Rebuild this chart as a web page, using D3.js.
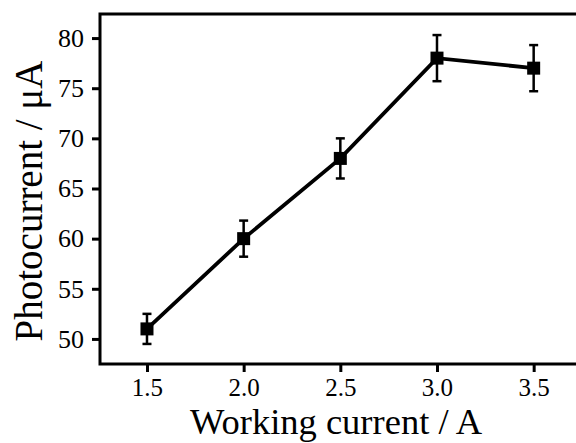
<!DOCTYPE html>
<html>
<head>
<meta charset="utf-8">
<script src="https://cdn.jsdelivr.net/npm/d3@7"></script>
<style>
  body { margin: 0; background: #fff; }
  svg text { font-family: "Liberation Serif", "Times New Roman", serif; fill: #000; }
</style>
</head>
<body>
<div id="chart"></div>
<script>
// data
var currents = [1.5, 2.0, 2.5, 3.0, 3.5];
var photocurrent = [51, 60, 68, 78, 77];
var errors = [1.5, 1.8, 2.0, 2.3, 2.3];
var xTicks = [1.5, 2.0, 2.5, 3.0, 3.5];
var yTicks = [50, 55, 60, 65, 70, 75, 80];

var width = 576, height = 443;
var margin = { top: 14, right: -6, bottom: 79, left: 100 };
var w = width - margin.left - margin.right,
    h = height - margin.top - margin.bottom;

var svg = d3.select("#chart")
    .append("svg")
    .attr("width", width)
    .attr("height", height);

var g = svg.append("g")
    .attr("transform", "translate(" + margin.left + "," + margin.top + ")");

var x = d3.scaleLinear()
    .domain([1.257, 3.75])
    .range([0, w]);

var y = d3.scaleLinear()
    .domain([47.5, 82.4])
    .range([h, 0]);

// x axis
var xAxis = g.append("g")
    .attr("transform", "translate(0," + h + ")")
    .call(d3.axisBottom(x).tickValues(xTicks).tickFormat(d3.format(".1f")).tickSize(8));
xAxis.select(".domain").remove();
xAxis.selectAll(".tick line").attr("stroke-width", 3);
xAxis.selectAll(".tick text")
    .attr("dy", null)
    .attr("y", 32)
    .attr("font-size", 25)
    .style("font-size", "25px");

// y axis
var yAxis = g.append("g")
    .call(d3.axisLeft(y).tickValues(yTicks).tickSize(8).tickPadding(8));
yAxis.select(".domain").remove();
yAxis.selectAll(".tick line").attr("stroke-width", 3);
yAxis.selectAll(".tick text")
    .attr("font-size", 26)
    .style("font-size", "26px");

// frame
g.append("rect")
    .attr("x", 0).attr("y", 0)
    .attr("width", w).attr("height", h)
    .attr("fill", "none")
    .attr("stroke", "#000")
    .attr("stroke-width", 3);

var pts = currents.map(function(c, i) { return { x: c, y: photocurrent[i], e: errors[i] }; });

// line
var line = d3.line()
    .x(function(d) { return x(d.x); })
    .y(function(d) { return y(d.y); });

g.append("path")
    .datum(pts)
    .attr("d", line)
    .attr("fill", "none")
    .attr("stroke", "#000")
    .attr("stroke-width", 3.8);

// error bars
var eb = g.selectAll(".err")
    .data(pts)
    .enter()
    .append("g")
    .attr("class", "err");

eb.append("line")
    .attr("x1", function(d) { return x(d.x); })
    .attr("x2", function(d) { return x(d.x); })
    .attr("y1", function(d) { return y(d.y - d.e); })
    .attr("y2", function(d) { return y(d.y + d.e); })
    .attr("stroke", "#000")
    .attr("stroke-width", 2.5);

eb.selectAll(".cap")
    .data(function(d) { return [d.y - d.e, d.y + d.e].map(function(v) { return { x: d.x, v: v }; }); })
    .enter()
    .append("line")
    .attr("x1", function(d) { return x(d.x) - 4.5; })
    .attr("x2", function(d) { return x(d.x) + 4.5; })
    .attr("y1", function(d) { return y(d.v); })
    .attr("y2", function(d) { return y(d.v); })
    .attr("stroke", "#000")
    .attr("stroke-width", 2.5);

// square markers
g.selectAll(".pt")
    .data(pts)
    .enter()
    .append("rect")
    .attr("x", function(d) { return x(d.x) - 6.5; })
    .attr("y", function(d) { return y(d.y) - 6.5; })
    .attr("width", 13)
    .attr("height", 13)
    .attr("fill", "#000");

// axis titles
svg.append("text")
    .attr("x", 336)
    .attr("y", 434)
    .attr("text-anchor", "middle")
    .style("font-size", "36.5px")
    .text("Working current / A");

svg.append("text")
    .attr("transform", "translate(42,201) rotate(-90)")
    .attr("text-anchor", "middle")
    .style("font-size", "39px")
    .text("Photocurrent / μA");
</script>
</body>
</html>
